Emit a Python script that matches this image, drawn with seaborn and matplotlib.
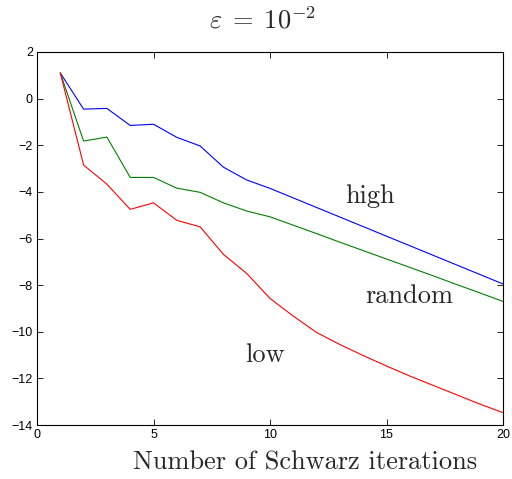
import matplotlib
matplotlib.use("Agg")
import matplotlib.pyplot as plt
import seaborn as sns
import pandas as pd

iterations = list(range(1, 21))
high = [1.1, -0.45, -0.42, -1.15, -1.1, -1.66, -2.03, -2.94, -3.49, -3.85,
        -4.26, -4.67, -5.08, -5.49, -5.90, -6.31, -6.72, -7.13, -7.54, -7.95]
random_ = [1.1, -1.82, -1.65, -3.38, -3.38, -3.84, -4.02, -4.47, -4.82, -5.07,
           -5.43, -5.79, -6.16, -6.52, -6.88, -7.24, -7.60, -7.97, -8.33, -8.70]
low = [1.1, -2.85, -3.67, -4.75, -4.47, -5.22, -5.50, -6.68, -7.50, -8.57,
       -9.33, -10.03, -10.55, -11.02, -11.47, -11.9, -12.3, -12.7, -13.1, -13.47]

series_names = ["high", "random", "low"]
colors = {"high": "#0000ff", "random": "#008000", "low": "#ff0000"}

df = pd.DataFrame({
    "iter": iterations * 3,
    "value": high + random_ + low,
    "series": ["high"] * 20 + ["random"] * 20 + ["low"] * 20,
})

sns.set_style("ticks")
plt.rcParams["mathtext.fontset"] = "cm"
plt.rcParams["font.family"] = ["Liberation Sans", "DejaVu Sans"]

fig = plt.figure(figsize=(5.12, 4.79), dpi=100)
ax = fig.add_axes([37 / 512, 1 - 425 / 479, (503 - 37) / 512, (425 - 52) / 479])

sns.lineplot(data=df, x="iter", y="value", hue="series", palette=colors,
             hue_order=series_names, linewidth=0.8, legend=False, ax=ax)

ax.set_xlim(0, 20)
ax.set_ylim(-14, 2)
ax.set_xticks([0, 5, 10, 15, 20])
ax.set_yticks(list(range(-14, 3, 2)))
ax.tick_params(direction="in", length=4, width=0.6, labelsize=9,
               top=True, right=True, pad=3, colors="black")
for s in ax.spines.values():
    s.set_linewidth(0.8)
    s.set_color("black")
ax.set_ylabel("")
ax.set_xlabel("Number of Schwarz iterations", fontfamily="cmr10", fontsize=19)
ax.xaxis.set_label_coords(0.575, -0.068, transform=ax.transAxes)
ax.xaxis.label.set_va("top")
ax.set_title(r"$\varepsilon\;=\;10^{-2}$", fontsize=19, pad=17, x=0.483)

label_pos = {"high": (14.3, -4.18), "random": (16.0, -8.47), "low": (9.8, -11.0)}
for name in series_names:
    x, y = label_pos[name]
    ax.text(x, y, name, fontfamily="cmr10", fontsize=19, ha="center", va="center")

fig.savefig("out.png", dpi=100)
